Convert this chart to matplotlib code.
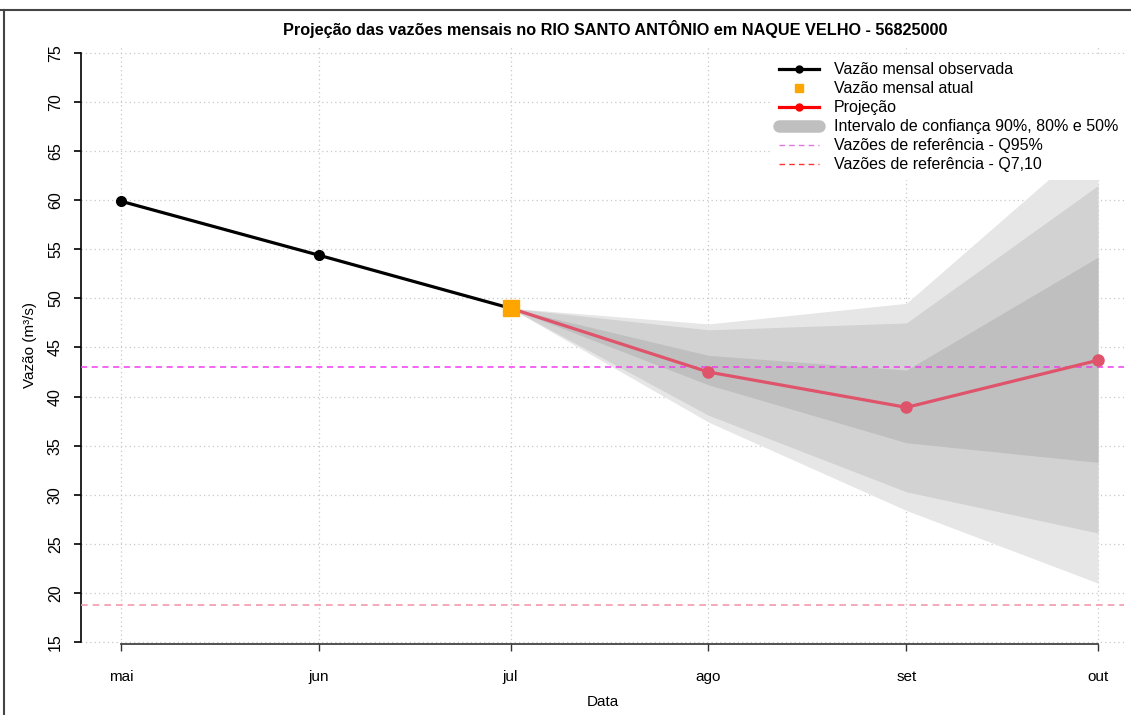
import numpy as np
import pandas as pd
import matplotlib
matplotlib.use('Agg')
import matplotlib.pyplot as plt
import matplotlib.dates as mdates
from matplotlib.lines import Line2D

plt.rcParams['font.family'] = ['Liberation Sans', 'DejaVu Sans']

# Dados
meses = pd.to_datetime(['2023-05-01', '2023-06-01', '2023-07-01', '2023-08-01', '2023-09-01', '2023-10-01'])
rotulos = ['mai', 'jun', 'jul', 'ago', 'set', 'out']

obs_datas = meses[:3]
obs_vazao = [59.9, 54.4, 49.0]
atual_data = meses[2]
atual_vazao = 49.0

proj_datas = meses[2:]
proj_vazao = [49.0, 42.5, 38.9, 43.7]

# Intervalos de confiança (jul, ago, set, out)
ic90_inf = [49.0, 37.4, 28.4, 21.0]
ic90_sup = [49.0, 47.4, 49.5, 66.5]
ic80_inf = [49.0, 38.1, 30.3, 26.1]
ic80_sup = [49.0, 46.8, 47.5, 61.5]
ic50_inf = [49.0, 41.2, 35.3, 33.3]
ic50_sup = [49.0, 44.2, 42.7, 54.2]

q95 = 43.0
q710 = 18.8

yticks = np.arange(15, 80, 5)

fig = plt.figure(figsize = (11.31, 7.15), dpi = 100)
ax = fig.add_axes([81 / 1131, 71 / 715, (1124 - 81) / 1131, (644 - 45) / 715])

# Grade pontilhada
for yt in yticks:
    ax.axhline(yt, color = '#C8C8C8', lw = 0.9, ls = (0, (1, 2.5)), zorder = 0)
for m in meses:
    ax.axvline(m, color = '#C8C8C8', lw = 0.9, ls = (0, (1, 2.5)), zorder = 0)

# Bandas
ax.fill_between(proj_datas, ic90_inf, ic90_sup, color = '#E6E6E6', lw = 0, zorder = 1)
ax.fill_between(proj_datas, ic80_inf, ic80_sup, color = '#D2D2D2', lw = 0, zorder = 2)
ax.fill_between(proj_datas, ic50_inf, ic50_sup, color = '#BFBFBF', lw = 0, zorder = 3)

# Referências
ax.axhline(q95, color = '#F03CF0', lw = 1.1, ls = (0, (4, 3)), zorder = 4)
ax.axhline(q710, color = '#F49AAE', lw = 1.2, ls = (0, (4, 3)), zorder = 4)

# Séries
ax.plot(obs_datas, obs_vazao, color = 'black', lw = 2.3, marker = 'o', ms = 7, zorder = 5)
ax.plot(proj_datas, proj_vazao, color = '#DF536B', lw = 2.3, marker = 'o', ms = 8, zorder = 6)
ax.plot([atual_data], [atual_vazao], color = 'orange', marker = 's', ms = 11, ls = 'none', zorder = 7)

# Eixos estilo R
px_dia = (1098 - 121) / (meses[-1] - meses[0]).days
ax.set_xlim(meses[0] - pd.Timedelta(days = 40 / px_dia), meses[-1] + pd.Timedelta(days = 26 / px_dia))
px_un = (642 - 53) / 60
ax.set_ylim(15 - 2 / px_un, 75 + 8 / px_un)

for s in ['top', 'right']:
    ax.spines[s].set_visible(False)
ax.spines['left'].set_bounds(15, 75)
ax.spines['bottom'].set_bounds(mdates.date2num(meses[0]), mdates.date2num(meses[-1]))
ax.spines['left'].set_linewidth(1.2)
ax.spines['bottom'].set_linewidth(1.2)
ax.spines['bottom'].set_color('#333333')

ax.set_yticks(yticks)
ax.set_yticklabels([str(v) for v in yticks], rotation = 90, va = 'center')
ax.set_xticks(meses)
ax.set_xticklabels(rotulos)
ax.tick_params(axis = 'y', length = 5, width = 1.2, pad = 8, labelsize = 11.5)
ax.tick_params(axis = 'x', length = 5, width = 1, pad = 14, labelsize = 11, color = '#333333')

ax.set_xlabel('Data', fontsize = 11, labelpad = 8)
ax.set_ylabel('Vazão (m³/s)', fontsize = 11, labelpad = 8)
fig.text(615 / 1131, 1 - 29 / 715, 'Projeção das vazões mensais no RIO SANTO ANTÔNIO em NAQUE VELHO - 56825000',
         ha = 'center', va = 'center', fontsize = 11.7, fontweight = 'bold')

# Legenda
handles = [
    Line2D([], [], color = 'black', lw = 2.3, marker = 'o', ms = 5),
    Line2D([], [], color = 'orange', marker = 's', ms = 6, ls = 'none'),
    Line2D([], [], color = 'red', lw = 2.3, marker = 'o', ms = 5),
    Line2D([], [], color = '#BFBFBF', lw = 9, solid_capstyle = 'round'),
    Line2D([], [], color = '#DD77DD', lw = 1, ls = (0, (4, 3))),
    Line2D([], [], color = '#FF3333', lw = 1, ls = (0, (4, 3))),
]
labels = ['Vazão mensal observada', 'Vazão mensal atual', 'Projeção',
          'Intervalo de confiança 90%, 80% e 50%', 'Vazões de referência - Q95%',
          'Vazões de referência - Q7,10']
leg = ax.legend(handles, labels, loc = 'upper right', bbox_to_anchor = (1.0095, 0.998), fontsize = 11.5,
                frameon = True, facecolor = 'white', edgecolor = 'none', framealpha = 1,
                handlelength = 2.5, handletextpad = 0.9, labelspacing = 0.25, borderpad = 0.5)
leg.set_zorder(10)

# Moldura da captura
fig.add_artist(Line2D([0, 1], [1 - 10 / 715, 1 - 10 / 715], color = '#444444', lw = 1.5))
fig.add_artist(Line2D([3.5 / 1131, 3.5 / 1131], [0, 1 - 10 / 715], color = '#444444', lw = 1.5))

fig.savefig('out.png', dpi = 100)
